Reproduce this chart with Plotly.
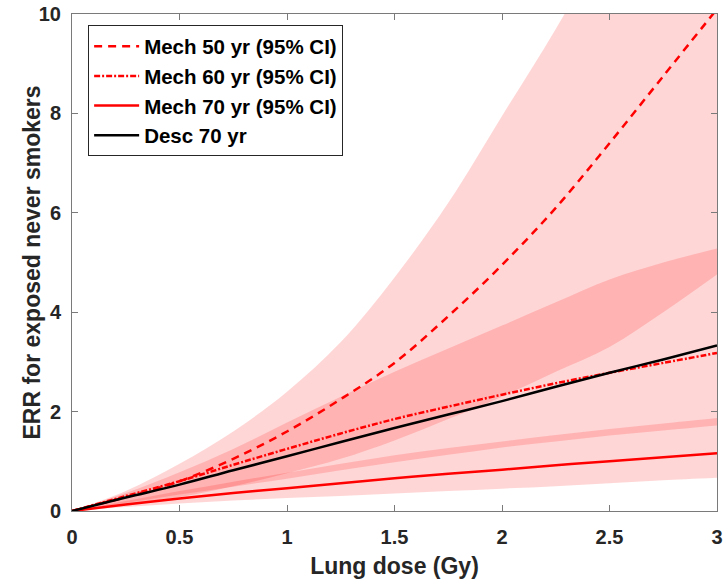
import plotly.graph_objects as go

dose = [0, 0.25, 0.5, 0.75, 1.0, 1.25, 1.5, 1.75, 2.0, 2.25, 2.5, 2.75, 3.0]

mech50 = [0, 0.28, 0.6, 1.05, 1.6, 2.25, 2.98, 3.92, 4.95, 6.1, 7.4, 8.75, 10.1]
mech50_lo = [0, 0.13, 0.28, 0.5, 0.76, 1.05, 1.42, 1.85, 2.3, 2.8, 3.3, 4.0, 4.76]
mech50_hi = [0, 0.4, 0.95, 1.6, 2.4, 3.4, 4.7, 6.2, 7.95, 9.7, 11.6, 13.7, 16.0]

mech60 = [0, 0.3, 0.6, 0.93, 1.25, 1.56, 1.85, 2.1, 2.34, 2.57, 2.78, 2.98, 3.18]
mech60_lo = [0, 0.16, 0.33, 0.49, 0.65, 0.82, 0.98, 1.13, 1.28, 1.4, 1.52, 1.62, 1.72]
mech60_hi = [0, 0.36, 0.78, 1.25, 1.78, 2.3, 2.8, 3.27, 3.73, 4.2, 4.66, 5.0, 5.28]

mech70 = [0, 0.13, 0.25, 0.36, 0.46, 0.56, 0.66, 0.75, 0.83, 0.92, 1.0, 1.08, 1.16]
mech70_lo = [0, 0.08, 0.15, 0.21, 0.26, 0.3, 0.35, 0.4, 0.45, 0.5, 0.56, 0.62, 0.67]
mech70_hi = [0, 0.2, 0.4, 0.59, 0.77, 0.95, 1.12, 1.27, 1.4, 1.53, 1.65, 1.76, 1.87]

desc70 = [0, 0.27, 0.53, 0.82, 1.1, 1.39, 1.67, 1.94, 2.21, 2.5, 2.78, 3.05, 3.33]

xticks = [0, 0.5, 1, 1.5, 2, 2.5, 3]
xticklabels = ["0", "0.5", "1", "1.5", "2", "2.5", "3"]
yticks = [0, 2, 4, 6, 8, 10]
yticklabels = ["0", "2", "4", "6", "8", "10"]

band_color = "rgba(255,0,0,0.16)"

fig = go.Figure()

for lo, hi in [(mech50_lo, mech50_hi), (mech60_lo, mech60_hi), (mech70_lo, mech70_hi)]:
    fig.add_trace(go.Scatter(x=dose, y=lo, mode="lines",
                             line=dict(width=0, shape="spline"),
                             showlegend=False, hoverinfo="skip"))
    fig.add_trace(go.Scatter(x=dose, y=hi, mode="lines", fill="tonexty",
                             fillcolor=band_color, line=dict(width=0, shape="spline"),
                             showlegend=False, hoverinfo="skip"))

fig.add_trace(go.Scatter(x=dose, y=mech50, mode="lines", name="Mech 50 yr (95% CI)",
                         line=dict(color="#ff0000", width=2.5, dash="8px,6px", shape="spline")))
fig.add_trace(go.Scatter(x=dose, y=mech60, mode="lines", name="Mech 60 yr (95% CI)",
                         line=dict(color="#ff0000", width=2.5, dash="6px,2px,2px,2px", shape="spline")))
fig.add_trace(go.Scatter(x=dose, y=mech70, mode="lines", name="Mech 70 yr (95% CI)",
                         line=dict(color="#ff0000", width=2.5, shape="spline")))
fig.add_trace(go.Scatter(x=dose, y=desc70, mode="lines", name="Desc 70 yr",
                         line=dict(color="#000000", width=2.5, shape="spline")))

axis_common = dict(
    showline=True, linecolor="#7a7a7a", linewidth=1, mirror="allticks",
    ticks="inside", ticklen=6, tickcolor="#7a7a7a", showgrid=False, zeroline=False,
    automargin=False, ticklabeloverflow="allow",
    tickfont=dict(family="Arial", size=20, color="#262626", weight="bold"),
)

fig.update_xaxes(range=[0, 3], tickvals=xticks, ticktext=xticklabels,
                 ticklabelstandoff=8,
                 title=dict(text="Lung dose (Gy)", standoff=10,
                            font=dict(family="Arial", size=23, color="#262626", weight="bold")),
                 **axis_common)
fig.update_yaxes(range=[0, 10], tickvals=yticks, ticktext=yticklabels,
                 ticklabelstandoff=6, **axis_common)

fig.add_annotation(text="ERR for exposed never smokers", textangle=-90,
                   xref="paper", yref="paper", x=0, y=0.5,
                   xanchor="center", yanchor="middle", xshift=-41, showarrow=False,
                   font=dict(family="Arial", size=23, color="#262626", weight="bold"))

fig.update_layout(
    width=726, height=583,
    margin=dict(l=72, r=9, t=14, b=72),
    plot_bgcolor="white", paper_bgcolor="white",
    legend=dict(x=0.025, y=0.977, xanchor="left", yanchor="top",
                bgcolor="white", bordercolor="#262626", borderwidth=1,
                font=dict(family="Arial", size=20.5, color="#000000", weight="bold"),
                traceorder="normal", tracegroupgap=0, itemwidth=45),
    showlegend=True,
)

fig.write_html("out.html", config={"displayModeBar": False},
               post_script="document.body.style.margin='0';document.body.style.overflow='hidden';")
